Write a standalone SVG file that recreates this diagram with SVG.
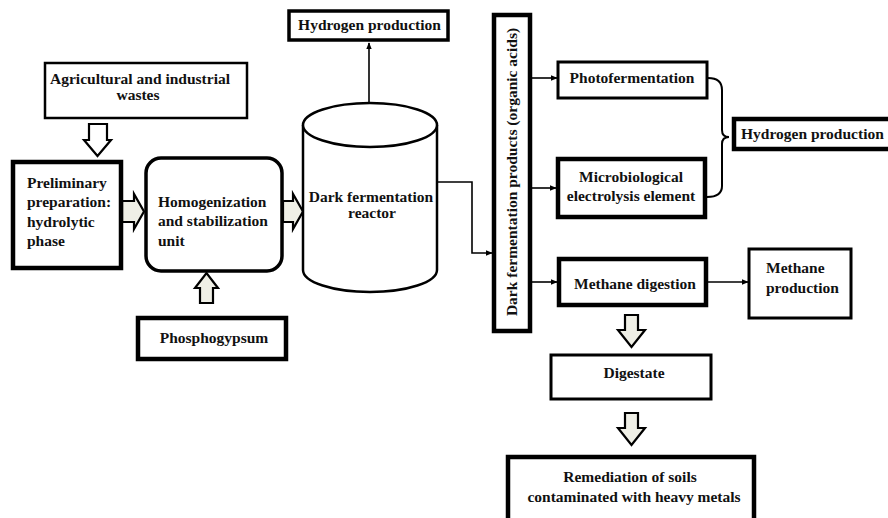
<svg xmlns="http://www.w3.org/2000/svg" width="888" height="518" viewBox="0 0 888 518" font-family="'Liberation Serif', 'Times New Roman', 'DejaVu Serif', serif">
<defs>
<style>
text{font-family:'Liberation Serif','Times New Roman',Tinos,'DejaVu Serif',serif;font-weight:bold;font-size:15.5px;fill:#111}
.b{fill:#fff;stroke:#000}
.t2{stroke-width:2.5}
.t3{stroke-width:3.5}
.t4{stroke-width:4.5}
.c{text-anchor:middle}
.ln{fill:none;stroke:#000;stroke-width:1.6}
.ha{fill:#efefe6;stroke:#000;stroke-width:2.2;stroke-linejoin:miter}
</style>
<marker id="ah" viewBox="0 0 10 10" refX="9" refY="5" markerWidth="7" markerHeight="7" markerUnits="userSpaceOnUse" orient="auto">
<path d="M0,1 L10,5 L0,9 Z" fill="#000"/>
</marker>
</defs>
<rect width="888" height="518" fill="#fff"/>

<g id="connectors">
<path class="ln" d="M369,103 L369,43" marker-end="url(#ah)"/>
<path class="ln" d="M437,182 L472,182 L472,253 L492,253" marker-end="url(#ah)"/>
<path class="ln" d="M530,78 L557,78" marker-end="url(#ah)"/>
<path class="ln" d="M530,188 L556,188" marker-end="url(#ah)"/>
<path class="ln" d="M530,282 L557,282" marker-end="url(#ah)"/>
<path class="ln" d="M707,282 L748,282" marker-end="url(#ah)"/>
<path class="ln" style="stroke-width:2" d="M708,78 Q722,78 722,90 L722,130 Q722,137 729,137 Q722,137 722,144 L722,186 Q722,197 707,197"/>
<path class="ha" style="fill:#fff" d="M89,124 L107,124 L107,140 L111,140 L97.5,156 L84,140 L89,140 Z"/>
<path class="ha" d="M122,201 L134,201 L134,194 L144,211.5 L134,229 L134,222 L122,222 Z"/>
<path class="ha" d="M283,201 L293,201 L293,194 L303,211.5 L293,229 L293,222 L283,222 Z"/>
<path class="ha" d="M200,303 L213,303 L213,288 L218,288 L206.5,273 L195,288 L200,288 Z"/>
<path class="ha" d="M625,315 L638,315 L638,330 L645,330 L631.5,347 L618,330 L625,330 Z"/>
<path class="ha" d="M625,413 L638,413 L638,428 L645,428 L631.5,445 L618,428 L625,428 Z"/>
</g>

<g id="agri">
<rect class="b t2" x="45" y="63" width="202" height="55"/>
<text class="c" x="140" y="84">Agricultural and industrial</text>
<text class="c" x="138" y="100">wastes</text>
</g>

<g id="prelim">
<rect class="b t4" x="13" y="162" width="108" height="106"/>
<text x="27" y="188">Preliminary</text>
<text x="27" y="207">preparation:</text>
<text x="27" y="227">hydrolytic</text>
<text x="27" y="246">phase</text>
</g>

<g id="homog">
<rect class="b t3" x="146" y="158" width="136" height="113" rx="15"/>
<text x="158" y="207">Homogenization</text>
<text x="158" y="226">and stabilization</text>
<text x="158" y="246">unit</text>
</g>

<g id="phospho">
<rect class="b t4" x="138" y="318" width="148" height="41"/>
<text class="c" x="214" y="343">Phosphogypsum</text>
</g>

<g id="h2top">
<rect class="b t3" x="289" y="11" width="159" height="29"/>
<text class="c" x="369.5" y="30">Hydrogen production</text>
</g>

<g id="reactor">
<path class="b t2" d="M303,125 L303,270 A67,22 0 0 0 437,270 L437,125"/>
<ellipse class="b t2" cx="370" cy="125" rx="67" ry="22"/>
<text class="c" x="371" y="202">Dark fermentation</text>
<text class="c" x="372" y="218">reactor</text>
</g>

<g id="products">
<rect class="b t4" x="494" y="15" width="36" height="316"/>
<text class="c" transform="translate(517,172) rotate(-90)">Dark fermentation products (organic acids)</text>
</g>

<g id="photo">
<rect class="b" style="stroke-width:3" x="558" y="62" width="149" height="36"/>
<text class="c" x="632" y="83">Photofermentation</text>
</g>

<g id="mec">
<rect class="b t4" x="558" y="159" width="147" height="58"/>
<text class="c" x="631" y="182">Microbiological</text>
<text class="c" x="631" y="201">electrolysis element</text>
</g>

<g id="h2right">
<rect class="b t4" x="734" y="119" width="170" height="30"/>
<text x="741" y="139">Hydrogen production</text>
</g>

<g id="methdig">
<rect class="b t4" x="559" y="259" width="147" height="46"/>
<text class="c" x="635" y="289">Methane digestion</text>
</g>

<g id="methprod">
<rect class="b" style="stroke-width:3" x="749" y="249" width="102" height="69"/>
<text x="766" y="273">Methane</text>
<text x="766" y="293">production</text>
</g>

<g id="digestate">
<rect class="b" style="stroke-width:3" x="551" y="355" width="160" height="44"/>
<text class="c" x="634" y="378">Digestate</text>
</g>

<g id="remed">
<rect class="b t4" x="508" y="457" width="246" height="70"/>
<text class="c" x="630" y="482">Remediation of soils</text>
<text class="c" x="634" y="502">contaminated with heavy metals</text>
</g>
</svg>
